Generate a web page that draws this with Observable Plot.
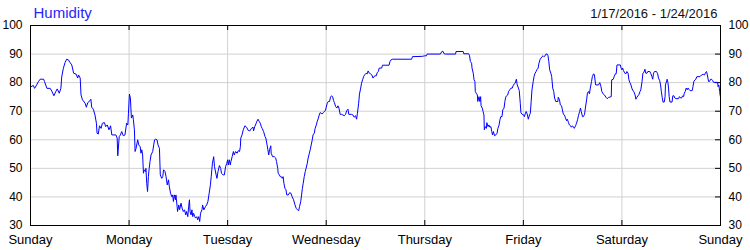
<!DOCTYPE html>
<html><head><meta charset="utf-8">
<script src="https://cdn.jsdelivr.net/npm/d3@7"></script>
<script src="https://cdn.jsdelivr.net/npm/@observablehq/plot@0.6"></script>
<style>
html,body{margin:0;padding:0;background:#fff}
#chart{width:750px;height:250px}
#chart svg{font-family:"Liberation Sans",Arial,sans-serif}
</style>
</head><body><div id="chart"></div>
<script>
const title = "Humidity";
const dateRange = "1/17/2016 - 1/24/2016";
const dayNames = ["Sunday","Monday","Tuesday","Wednesday","Thursday","Friday","Saturday","Sunday"];
const dayTicks = [0,24,48,72,96,120,144,168];
const yTicks = [30,40,50,60,70,80,90,100];

// [hour of day, humidity %]
const sunday = [[0,78.5],[0.7,79],[1.0,78],[1.5,79.2],[1.9,80.3],[2.35,81.2],[3.2,81.2],[3.4,80.4],[4.0,78],[4.8,78],[5.2,77],[5.7,75.4],[6.2,77],[6.5,77.8],[7.0,76.3],[7.4,78],[7.6,82],[8.0,85],[8.4,87],[8.8,88.2],[9.2,88],[9.65,87],[10.05,86.2],[10.5,83.3],[11.1,83],[11.5,81.6],[11.7,82.7],[12.1,81.6],[12.3,75.7],[12.65,74],[13.3,72.8],[13.6,71.4],[13.95,73],[14.3,73.4],[14.7,74.2],[14.9,71.4],[15.3,70.7],[15.7,68.7],[16.05,65.8],[16.2,62.3],[16.5,62],[16.8,64.9],[17.2,64],[17.5,65.8],[18.0,66],[18.3,64.6],[18.7,65.2],[19.1,63.5],[19.5,64.9],[19.8,61.7],[20.8,61.7],[21.1,60.6],[21.25,54.4],[21.6,61.1],[21.9,61.7],[22.2,62.9],[22.6,61.4],[23.0,61.7],[23.4,65.8],[23.7,65.2],[23.85,69.3]];
const monday = [[0.08,76],[0.32,74.6],[0.57,67.6],[0.9,68.7],[1.05,67],[1.3,63.5],[1.46,55.9],[1.7,57],[2.1,60],[2.35,58.2],[2.7,57.6],[2.9,55.3],[3.1,56.5],[3.3,54.7],[3.5,48.3],[3.7,49.5],[4.0,48.9],[4.1,50],[4.3,44.8],[4.5,41.9],[4.7,47.1],[4.9,50],[5.1,52.4],[5.35,54.7],[5.75,55.9],[6.0,58.2],[6.2,60],[6.4,60.2],[6.8,60],[7.05,58.2],[7.4,57],[7.6,47.7],[7.95,46.5],[8.2,47.1],[8.4,49.5],[8.75,48.9],[9.0,47.1],[9.3,44.2],[9.6,46],[9.8,43.6],[10.1,41.3],[10.4,40.1],[10.6,40.7],[10.8,38.4],[11.0,40.7],[11.3,39],[11.4,40.7],[11.7,36.6],[11.8,34.9],[12.1,37.2],[12.3,35.5],[12.65,37.8],[12.9,36.1],[13.2,34.9],[13.5,35.5],[13.8,33.7],[14.0,34.9],[14.3,33.1],[14.5,36.6],[14.7,39],[14.85,34.9],[15.1,33.7],[15.3,35.5],[15.5,33.1],[15.7,34.3],[16.0,33.1],[16.2,32.6],[16.5,33.1],[16.7,32],[16.95,33.1],[17.2,31.4],[17.4,34.3],[17.75,35.5],[17.9,37.2],[18.2,35.5],[18.6,36.6],[18.9,37.2],[19.2,38.4],[19.5,41.3],[19.8,44.2],[20.0,47.1],[20.3,51.8],[20.6,54.1],[20.8,50.6],[21.2,47.7],[21.4,46.5],[21.65,48.9],[22.0,51],[22.3,50],[22.5,48.3],[22.9,47.7],[23.2,47.7],[23.5,50.6],[23.8,51.8]];
const tuesday = [[0,53],[0.16,51.2],[0.4,53],[0.65,51.2],[0.8,52.4],[1.1,54.1],[1.4,55.9],[1.6,54.7],[1.95,55.9],[2.3,55.3],[2.6,56.2],[2.9,55.9],[3.1,57.6],[3.2,60.6],[3.5,61.7],[3.8,63.5],[4.2,64.9],[4.6,64.4],[5.0,63.3],[5.4,63.1],[5.8,64],[6.2,64.4],[6.3,63.1],[6.6,64.6],[6.9,65.6],[7.1,66.4],[7.4,67.2],[7.7,66.4],[7.95,65.8],[8.2,64.6],[8.4,64],[8.75,62.9],[9.1,61.1],[9.3,60.6],[9.6,58.2],[9.8,56.5],[10.0,54.7],[10.2,56.5],[10.5,57.9],[10.6,55.3],[10.95,54.1],[11.35,54.1],[11.7,53.6],[11.9,52.4],[12.2,50],[12.3,48.3],[12.6,47.7],[12.8,47.1],[13.05,47.1],[13.3,46.5],[13.5,47.1],[13.7,44.8],[13.95,43],[14.2,42.5],[14.4,40.7],[14.75,40.7],[15.1,41.5],[15.4,41.3],[15.7,40.1],[16.05,39],[16.4,37.2],[16.7,36],[17.0,35.5],[17.3,35.2],[17.5,36.6],[17.8,38.4],[18.0,40.7],[18.2,43],[18.4,44.8],[18.65,47.1],[18.9,48.9],[19.1,50],[19.4,51.8],[19.6,53.6],[19.9,55.3],[20.1,56.5],[20.35,58.2],[20.6,60],[20.8,61.7],[21.1,62.3],[21.3,64],[21.6,65.2],[21.8,66.4],[22.1,67.6],[22.3,68.7],[22.5,69.5],[22.8,69.3],[23.0,69],[23.3,69.5],[23.5,69.9],[23.8,70.2]];
const wednesday = [[0,71.4],[0.25,72.8],[0.5,73.4],[0.8,73.4],[1.05,74.9],[1.3,75.4],[1.55,75.1],[1.8,73.7],[2.0,73],[2.3,71.6],[2.6,71.1],[2.85,71.9],[3.1,71.1],[3.4,68.9],[3.75,68.9],[4.05,68.7],[4.4,68.4],[4.7,68.9],[5.0,70.2],[5.3,70.7],[5.5,68.9],[6.2,68.9],[6.5,68.7],[6.8,67.9],[7.15,68.4],[7.4,67.2],[7.6,69.3],[7.9,72.8],[8.1,76],[8.4,78.1],[8.6,79.8],[8.9,81.2],[9.1,82.1],[9.35,82.7],[9.7,83.3],[10.0,83.1],[10.2,84.1],[10.5,83.3],[10.8,83.1],[11.1,82.7],[11.4,81.6],[11.6,82.1],[11.9,82.4],[12.2,82.4],[12.4,83.5],[12.7,83.9],[12.9,85.1],[13.5,85.1],[13.7,86.1],[15.3,86.1],[15.5,87.3],[15.8,88],[16.1,88.2],[20.8,88.2],[21.0,89.1],[23.4,89.2]];
const thursday = [[0,89.4],[0.4,89.4],[0.57,90],[3.8,90],[4.1,90.8],[4.4,91],[4.7,90.1],[5.0,90],[7.5,90],[7.6,90.9],[9.35,90.9],[9.5,90.1],[10.7,90.1],[10.9,89.4],[11.1,87.4],[11.4,86.8],[11.5,85.1],[11.8,83.3],[12.0,81],[12.2,80.4],[12.3,76.9],[12.6,76.1],[12.8,75.7],[12.9,73.4],[13.2,75.1],[13.4,73.4],[13.6,75.1],[13.7,71.9],[14.0,71.1],[14.2,69.9],[14.4,68.7],[14.5,63.5],[14.7,64.6],[15.0,64],[15.1,66],[15.4,64.6],[15.6,65.2],[15.85,64.4],[16.1,64.6],[16.3,62.9],[16.5,61.7],[16.7,62.9],[17.0,61.4],[17.3,61.7],[17.6,62.3],[17.8,64],[18.05,64.9],[18.3,67],[18.5,68.1],[18.8,68.1],[19.0,70.5],[19.3,71.1],[19.5,73.4],[19.7,74.9],[19.9,75.4],[20.2,75.7],[20.4,76.9],[20.7,77.5],[21.0,78.1],[21.3,78.1],[21.5,78.9],[21.8,79.6],[22.0,79.8],[22.3,81.2],[22.5,79.2],[22.8,78.1],[23.0,77.2],[23.25,72.8],[23.4,69.5],[23.7,68.9]];
const friday = [[0.08,68.7],[0.25,68.1],[0.5,69.3],[0.7,69.9],[1.0,68.7],[1.2,67.2],[1.5,68.7],[1.7,69.3],[1.9,73.4],[2.1,77.5],[2.4,80.4],[2.6,82.1],[2.85,83.3],[3.1,83.9],[3.3,84.5],[3.6,85.1],[3.8,86.8],[4.1,88.2],[4.3,88.6],[4.55,89.1],[4.8,89.4],[5.0,89.1],[5.3,89.4],[5.5,90],[5.8,90],[6.0,89.4],[6.2,87.4],[6.4,84.5],[6.7,83.3],[6.9,82.1],[7.15,78.1],[7.4,76.9],[7.6,74.6],[7.9,73.4],[8.4,73.4],[8.5,74.9],[8.8,74],[9.0,72.2],[9.3,71.9],[9.5,70.5],[9.75,68.9],[10.0,68.7],[10.2,67.9],[10.5,66.7],[10.7,67.2],[11.0,66],[11.2,65.2],[11.5,64.9],[11.7,64.4],[11.95,64.9],[12.2,64.4],[12.4,64],[12.7,64.9],[12.9,65.6],[13.2,67],[13.4,68.4],[13.7,69.9],[13.9,71.1],[14.1,69.9],[14.4,68.1],[14.6,68.1],[14.9,68.9],[15.1,71.1],[15.4,74],[15.6,76.3],[15.85,76.9],[16.1,76.1],[16.3,78.1],[16.6,80.4],[16.8,82.1],[17.1,83.1],[17.3,82.7],[17.6,79.2],[18.3,79.2],[18.6,80],[18.9,78.6],[19.1,76.9],[19.4,76.1],[19.75,75.7],[20.1,74.9],[20.4,74.4],[20.7,74.8],[21.4,75.1],[21.5,81],[21.9,81.2],[22.1,82.1],[22.4,83.1],[22.6,83.1],[22.8,86.2],[23.6,86.2],[23.8,85.1]];
const saturday = [[0,84.5],[0.16,85.1],[0.4,84.2],[0.7,83.3],[0.97,83.1],[1.2,83.9],[1.5,83.3],[1.7,81],[1.95,80],[2.2,79.2],[2.4,78.1],[2.7,77.1],[2.9,76.9],[3.2,75.7],[3.4,74.2],[3.65,74.9],[3.9,75.4],[4.1,75.7],[4.4,76.9],[4.6,77.5],[4.9,80.4],[5.1,83.3],[5.35,83.6],[5.6,84.7],[5.8,83.3],[6.1,83.3],[6.3,83.9],[6.8,83.9],[7.05,83.1],[7.3,82.1],[7.5,81.2],[7.7,83.3],[7.95,83.9],[8.4,83.9],[8.7,83.1],[8.9,81.6],[9.2,80.7],[9.4,79.2],[9.6,76.9],[9.8,74.9],[10.0,73.2],[10.3,73.2],[10.5,75.1],[10.6,79.2],[10.9,80.7],[11.0,81.2],[11.2,80],[11.35,78.1],[11.5,75.1],[11.7,73.2],[12.2,73.2],[12.4,75.4],[12.65,75.4],[12.9,74.6],[13.1,74.4],[13.8,74.4],[14.0,75.1],[14.3,74.6],[14.5,74.6],[14.8,75.4],[15.0,75.1],[15.2,76.3],[15.4,76.9],[15.65,78.1],[15.9,77.5],[16.1,78.1],[16.4,77.5],[16.6,77.2],[17.1,77.2],[17.3,78.6],[17.5,80.4],[17.8,81],[18.0,81.2],[18.25,82.1],[19.0,82.1],[19.4,82.7],[19.8,82.9],[20.1,82.7],[20.4,83.6],[20.6,83.9],[20.8,82.7],[21.1,80.4],[21.3,80.4],[21.6,81.2],[21.8,81.2],[22.1,80.7],[22.3,80.1],[23.3,80.1],[23.4,78.6],[23.6,79.2],[23.8,76.9],[23.9,75.7],[24,75]];

const days = [sunday, monday, tuesday, wednesday, thursday, friday, saturday];
const data = days.flatMap((d, i) => d.map(([h, v]) => ({t: i * 24 + h, v})));

const chart = Plot.plot({
  width: 750,
  height: 250,
  marginLeft: 30,
  marginRight: 30,
  marginTop: 25,
  marginBottom: 25,
  style: {fontFamily: '"Liberation Sans", Arial, sans-serif', background: "#fff", overflow: "visible"},
  x: {domain: [0, 168], label: null},
  y: {domain: [30, 100], label: null},
  marks: [
    Plot.gridX(dayTicks, {stroke: "#d0d0d0", strokeOpacity: 1}),
    Plot.gridY(yTicks, {stroke: "#d0d0d0", strokeOpacity: 1}),
    Plot.gridX(dayTicks, {stroke: "#000", strokeOpacity: 1, insetTop: 195}),
    Plot.gridX(dayTicks, {stroke: "#000", strokeOpacity: 1, insetBottom: 195}),
    Plot.gridY(yTicks, {stroke: "#000", strokeOpacity: 1, insetLeft: 685}),
    Plot.line(data, {x: "t", y: "v", stroke: "#0000ff", strokeWidth: 1}),
    Plot.frame({stroke: "#000"}),
    Plot.axisX(dayTicks, {anchor: "bottom", label: null, tickSize: 0, tickPadding: 9, fontSize: 13, fill: "#000",
      tickFormat: (d) => dayNames[d / 24]}),
    Plot.axisY(yTicks, {anchor: "left", label: null, tickSize: 0, tickPadding: 8, fontSize: 12, fill: "#000"}),
    Plot.axisY(yTicks, {anchor: "right", label: null, tickSize: 0, tickPadding: 8, fontSize: 12, fill: "#000"}),
    Plot.text([title], {frameAnchor: "top-left", dx: 3, dy: -8, lineAnchor: "bottom", textAnchor: "start",
      fontSize: 15, fill: "#2525ff"}),
    Plot.text([dateRange], {frameAnchor: "top-right", dx: -3, dy: -8, lineAnchor: "bottom", textAnchor: "end",
      fontSize: 13, fill: "#111"})
  ]
});
document.getElementById("chart").appendChild(chart);
</script>
</body></html>
